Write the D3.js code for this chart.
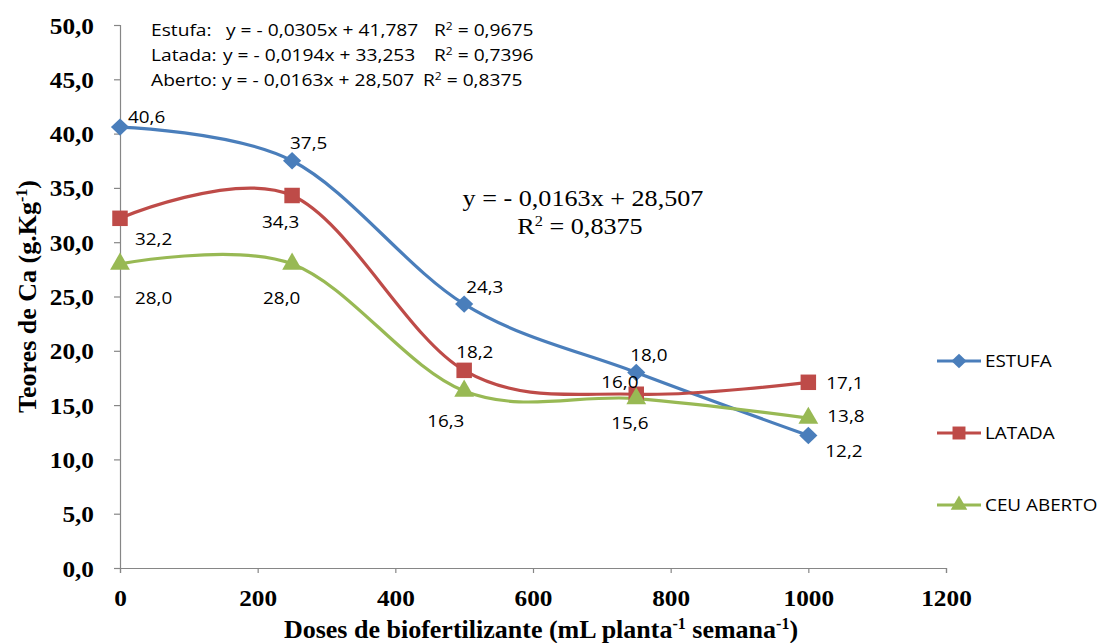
<!DOCTYPE html>
<html>
<head>
<meta charset="utf-8">
<script src="https://cdn.jsdelivr.net/npm/d3@7/dist/d3.min.js"></script>
<style>
  html, body { margin: 0; padding: 0; background: #fff; }
  svg { display: block; }
</style>
</head>
<body>
<svg id="chart" width="1099" height="643"></svg>
<script>
// Doses (mL planta-1 semana-1)
const doses = [0, 250, 500, 750, 1000];

// Ca contents (g.Kg-1) per growing environment
const estufa = [40.6, 37.5, 24.3, 18.0, 12.2];
const latada = [32.2, 34.3, 18.2, 16.0, 17.1];
const ceuAberto = [28.0, 28.0, 16.3, 15.6, 13.8];

const seriesNames = ["ESTUFA", "LATADA", "CEU ABERTO"];

const xTicks = [0, 200, 400, 600, 800, 1000, 1200];
const yTicks = [0, 5, 10, 15, 20, 25, 30, 35, 40, 45, 50];

const eqLabels = ["Estufa:", "Latada:", "Aberto:"];
const eqFormulas = ["y = - 0,0305x + 41,787", "y = - 0,0194x + 33,253", "y = - 0,0163x + 28,507"];
const eqR2 = ["0,9675", "0,7396", "0,8375"];

const fmt = v => v.toFixed(1).replace(".", ",");

const svg = d3.select("#chart");
const x = d3.scaleLinear().domain([0, 1200]).range([120, 946]);
const y = d3.scaleLinear().domain([0, 50]).range([568, 25]);

const axisColor = "#868686";
const serifFont = "'Liberation Serif', 'Times New Roman', serif";
const sansFont = "'Open Sans', 'Noto Sans', sans-serif";

// Widen text horizontally about its own anchor point
function widen(sel, sx) {
  sel.each(function () {
    const t = d3.select(this);
    const tx = +t.attr("x") || 0, ty = +t.attr("y") || 0;
    t.attr("x", 0).attr("y", 0).attr("transform", `translate(${tx},${ty}) scale(${sx},1)`);
  });
}

// Axes
const gx = svg.append("g").attr("transform", `translate(0,${y(0)})`)
  .call(d3.axisBottom(x).tickValues(xTicks).tickFormat(d3.format("d")).tickSizeOuter(0).tickSize(5).tickPadding(17));
const gy = svg.append("g").attr("transform", `translate(${x(0)},0)`)
  .call(d3.axisLeft(y).tickValues(yTicks).tickFormat(fmt).tickSizeOuter(0).tickSize(6).tickPadding(20));
[gx, gy].forEach(g => {
  g.selectAll("path, line").attr("stroke", axisColor).attr("stroke-width", 1.2);
  g.selectAll("text").attr("fill", "#000").style("font-family", serifFont)
    .style("font-weight", "bold").style("font-size", "23px");
});
gy.selectAll("text").attr("dy", "0.35em");
gx.selectAll("text").attr("dy", "0.71em");
widen(gx.selectAll(".tick text"), 1.1);
widen(gy.selectAll(".tick text"), 1.1);

// Axis titles
const yTitle = svg.append("text")
  .attr("transform", `translate(36,${(y(0) + y(50)) / 2}) rotate(-90)`)
  .attr("text-anchor", "middle")
  .style("font-family", serifFont).style("font-weight", "bold").style("font-size", "26px");
yTitle.append("tspan").text("Teores de Ca (g.Kg");
yTitle.append("tspan").attr("dy", -9).style("font-size", "16px").text("-1");
yTitle.append("tspan").attr("dy", 9).text(")");

const xTitle = svg.append("text")
  .attr("x", 541).attr("y", 638)
  .attr("text-anchor", "middle")
  .style("font-family", serifFont).style("font-weight", "bold").style("font-size", "26px");
xTitle.append("tspan").text("Doses de biofertilizante (mL planta");
xTitle.append("tspan").attr("dy", -9).style("font-size", "16px").text("-1");
xTitle.append("tspan").attr("dy", 9).text(" semana");
xTitle.append("tspan").attr("dy", -9).style("font-size", "16px").text("-1");
xTitle.append("tspan").attr("dy", 9).text(")");

// Square-on-point diamond, as drawn by spreadsheet markers
const diamond = {
  draw(ctx, size) {
    const r = Math.sqrt(size / 2);
    ctx.moveTo(0, -r); ctx.lineTo(r * 1.05, 0); ctx.lineTo(0, r); ctx.lineTo(-r * 1.05, 0); ctx.closePath();
  }
};

// Series definitions
const series = [
  { name: seriesNames[0], values: estufa, color: "#4A7EBB", marker: diamond, size: 150,
    offsets: [[8, -10], [-2, -17], [2, -17], [-6, -17], [17, 16]] },
  { name: seriesNames[1], values: latada, color: "#BE4B48", marker: d3.symbolSquare, size: 240,
    offsets: [[15, 21], [-30, 27], [-8, -18], [-35, -12], [18, 1]] },
  { name: seriesNames[2], values: ceuAberto, color: "#98B954", marker: d3.symbolTriangle, size: 170,
    offsets: [[15, 34], [-29, 34], [-37, 30], [-25, 25], [19, -2]] }
];

const line = d3.line()
  .x((d, i) => x(doses[i]))
  .y(d => y(d))
  .curve(d3.curveCatmullRom.alpha(0));

// Lines, markers and value labels
series.forEach(s => {
  svg.append("path").datum(s.values)
    .attr("d", line).attr("fill", "none")
    .attr("stroke", s.color).attr("stroke-width", 3.2);
});
series.forEach(s => {
  svg.append("g").selectAll("path").data(s.values).join("path")
    .attr("d", d3.symbol().type(s.marker).size(s.size))
    .attr("transform", (d, i) => `translate(${x(doses[i])},${y(d)})`)
    .attr("fill", s.color);
});
series.forEach(s => {
  const labels = svg.append("g").selectAll("text").data(s.values).join("text")
    .attr("x", (d, i) => x(doses[i]) + s.offsets[i][0])
    .attr("y", (d, i) => y(d) + s.offsets[i][1])
    .attr("dy", "0.35em")
    .style("font-family", sansFont).style("font-size", "16px").attr("fill", "#000")
    .text(d => fmt(d));
  widen(labels, 1.18);
});

// Regression equations block
const eqRows = [
  { y: 36, fx: 226, rx: 434 },
  { y: 61, fx: 223, rx: 434 },
  { y: 86, fx: 222, rx: 423 }
];
const eq = svg.append("g").style("font-family", sansFont).style("font-size", "16px").attr("fill", "#000");
eqRows.forEach((r, i) => {
  widen(eq.append("text").attr("x", 151).attr("y", r.y).text(eqLabels[i]), 1.2);
  widen(eq.append("text").attr("x", r.fx).attr("y", r.y).text(eqFormulas[i]), 1.2);
  const t = eq.append("text").attr("x", r.rx).attr("y", r.y);
  t.append("tspan").text("R");
  t.append("tspan").attr("dy", -6).style("font-size", "10px").text("2");
  t.append("tspan").attr("dy", 6).text(" = " + eqR2[i]);
  widen(t, 1.2);
});

// Highlighted equation for the open-field series
const eq2 = svg.append("g").style("font-family", serifFont).style("font-size", "24px")
  .attr("text-anchor", "middle").attr("fill", "#000");
widen(eq2.append("text").attr("x", 583).attr("y", 206).text(eqFormulas[2]), 1.09);
const r2 = eq2.append("text").attr("x", 580).attr("y", 234);
r2.append("tspan").text("R");
r2.append("tspan").attr("dy", -8).style("font-size", "15px").text("2");
r2.append("tspan").attr("dy", 8).text(" = " + eqR2[2]);
widen(r2, 1.09);

// Legend
const legend = svg.append("g");
series.forEach((s, i) => {
  const ly = 361 + i * 72;
  const g = legend.append("g").attr("transform", `translate(0,${ly})`);
  g.append("line").attr("x1", 937).attr("x2", 981).attr("stroke", s.color).attr("stroke-width", 3.2);
  g.append("path").attr("d", d3.symbol().type(s.marker).size(s.size * 0.7)).attr("transform", "translate(959,0)").attr("fill", s.color);
  widen(g.append("text").attr("x", 985).attr("dy", "0.35em")
    .style("font-family", sansFont).style("font-size", "16px").attr("fill", "#000").text(s.name), 1.18);
});
</script>
</body>
</html>
